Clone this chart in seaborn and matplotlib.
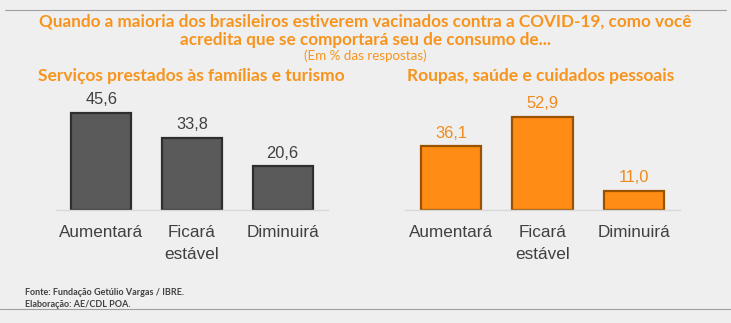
import matplotlib
matplotlib.use("Agg")
import matplotlib.pyplot as plt
import seaborn as sns
import pandas as pd

categories = ["Aumentará", "Ficará\nestável", "Diminuirá"]
servicos = [45.6, 33.8, 20.6]
roupas = [36.1, 52.9, 11.0]
value_labels_servicos = ["45,6", "33,8", "20,6"]
value_labels_roupas = ["36,1", "52,9", "11,0"]

title_main = "Quando a maioria dos brasileiros estiverem vacinados contra a COVID-19, como você\nacredita que se comportará seu de consumo de..."
subtitle = "(Em % das respostas)"
panel_titles = ["Serviços prestados às famílias e turismo", "Roupas, saúde e cuidados pessoais"]
footer = ["Fonte: Fundação Getúlio Vargas / IBRE.", "Elaboração: AE/CDL POA."]

sns.set_theme(style="white")
plt.rcParams['font.family'] = ['Liberation Sans', 'DejaVu Sans']

BG = "#efefef"
ORANGE = "#f7941d"
TXT = "#404040"
HEAD = ['Lato', 'DejaVu Sans']

fig = plt.figure(figsize=(7.31, 3.23), dpi=100, facecolor=BG)

ax1 = fig.add_axes([0.0766, 0.3498, 0.372, 0.3715])
ax2 = fig.add_axes([0.554, 0.3498, 0.376, 0.3715])

specs = [
    (ax1, servicos, value_labels_servicos, "#5a5a5a", "#2e2e2e", "#404040", 56.3),
    (ax2, roupas, value_labels_roupas, "#ff8c14", "#9a5200", "#f08a1c", 68.0),
]
for ax, vals, labs, fc, ec, lc, ymax in specs:
    df = pd.DataFrame({"cat": categories, "val": vals})
    sns.barplot(data=df, x="cat", y="val", ax=ax, color=fc, width=0.66,
                edgecolor=ec, linewidth=1.6, saturation=1)
    ax.set_facecolor(BG)
    ax.set_ylim(0, ymax)
    ax.set_xlim(-0.5, 2.5)
    ax.set_xlabel("")
    ax.set_ylabel("")
    ax.set_yticks([])
    for s in ["top", "right", "left"]:
        ax.spines[s].set_visible(False)
    ax.spines["bottom"].set_color("#d8d8d8")
    ax.spines["bottom"].set_linewidth(1)
    ax.tick_params(axis="x", length=0, pad=11)
    for t in ax.get_xticklabels():
        t.set_fontsize(12.3)
        t.set_color(TXT)
        t.set_linespacing(1.6)
        t.set_verticalalignment("top")
    for i, (v, l) in enumerate(zip(vals, labs)):
        ax.annotate(l, (i, v), xytext=(0, 4), textcoords="offset points",
                    ha="center", va="bottom", fontsize=11.8, color=lc)

fig.text(0.5, 0.905, title_main, ha="center", va="center", fontsize=12.3,
         fontweight="bold", color=ORANGE, family=HEAD, linespacing=1.22)
fig.text(0.5, 0.826, subtitle, ha="center", va="center", fontsize=9.6,
         color=ORANGE, family=HEAD)
fig.text(0.262, 0.765, panel_titles[0], ha="center", va="center", fontsize=12.5,
         fontweight="bold", color=ORANGE, family=HEAD)
fig.text(0.740, 0.765, panel_titles[1], ha="center", va="center", fontsize=12.5,
         fontweight="bold", color=ORANGE, family=HEAD)

fig.text(0.034, 0.093, footer[0], ha="left", va="center", fontsize=6.5,
         color=TXT, family=HEAD, fontweight="bold")
fig.text(0.034, 0.058, footer[1], ha="left", va="center", fontsize=6.5,
         color=TXT, family=HEAD, fontweight="bold")

fig.add_artist(plt.Line2D([0.007, 0.993], [0.969, 0.969], color="#a0a0a0", lw=0.8))
fig.add_artist(plt.Line2D([0.0, 1.0], [0.043, 0.043], color="#a0a0a0", lw=0.8))

fig.savefig("out.png", dpi=100, facecolor=BG)
